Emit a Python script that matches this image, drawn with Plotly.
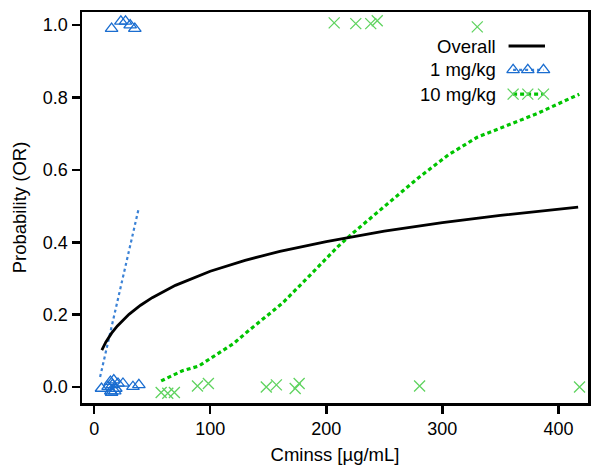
import plotly.graph_objects as go

# ---------------- data ----------------
# 1 mg/kg observations
low_x = [6.3, 12.0, 14.0, 15.7, 16.9, 18.6, 20.5, 24.8, 33.4, 38.5, 14.3, 17.7, 15.0,
         15.0, 23.0, 27.0, 31.0, 35.0]
low_y = [-0.004, 0.001, 0.015, 0.006, 0.019, -0.004, 0.010, 0.010, 0.001, 0.006, -0.011, -0.011, -0.015,
         0.99, 1.01, 1.01, 1.00, 0.99]
# 1 mg/kg fitted curve
low_fit_x = [5.1, 38.4]
low_fit_y = [0.028, 0.494]

# 10 mg/kg observations
high_x = [57.7, 63.4, 69.1, 89.0, 98.4, 148.3, 157.0, 173.2, 176.6, 280.4, 418.2,
          206.8, 225.4, 238.3, 243.9, 330.1]
high_y = [-0.015, -0.017, -0.015, 0.003, 0.010, 0.000, 0.006, -0.004, 0.010, 0.003, 0.000,
          1.006, 1.004, 1.004, 1.012, 0.995]
# 10 mg/kg fitted curve
high_fit_x = [57.7, 76, 90, 105, 120, 133.5, 150, 162, 182, 210, 222, 248, 279, 305, 330, 353, 382, 418]
high_fit_y = [0.017, 0.045, 0.058, 0.088, 0.12, 0.157, 0.2, 0.231, 0.296, 0.388, 0.423, 0.494,
              0.577, 0.641, 0.69, 0.719, 0.756, 0.809]

# Overall fitted curve
all_x = [6.6, 10, 15, 20, 30, 40, 50, 70, 100, 130, 160, 200, 250, 300, 350, 417]
all_y = [0.102, 0.124, 0.149, 0.169, 0.201, 0.226, 0.247, 0.281, 0.320, 0.350, 0.375, 0.402,
         0.431, 0.454, 0.474, 0.497]

x_ticks = [0, 100, 200, 300, 400]
y_ticks = [0.0, 0.2, 0.4, 0.6, 0.8, 1.0]
y_tick_text = ["0.0", "0.2", "0.4", "0.6", "0.8", "1.0"]
legend_names = ["Overall", "1 mg/kg", "10 mg/kg"]

# ---------------- styles ----------------
BLUE = "#1a6dd0"
BLUE_LINE = "#3b82d6"
GREEN_M = "#5fd35f"
GREEN_L = "#00c400"
FONT = "Liberation Sans, Arial, sans-serif"

fig = go.Figure()

fig.add_trace(go.Scatter(x=low_x, y=low_y, mode="markers",
                         marker=dict(symbol="triangle-up-open", size=11, color=BLUE,
                                     line=dict(width=1.3, color=BLUE)),
                         showlegend=False))
fig.add_trace(go.Scatter(x=high_x, y=high_y, mode="markers",
                         marker=dict(symbol="x-thin-open", size=11, color=GREEN_M,
                                     line=dict(width=1.3, color=GREEN_M)),
                         showlegend=False))
fig.add_trace(go.Scatter(x=low_fit_x, y=low_fit_y, mode="lines",
                         line=dict(color=BLUE_LINE, width=2.2, dash="dot"), showlegend=False))
fig.add_trace(go.Scatter(x=high_fit_x, y=high_fit_y, mode="lines",
                         line=dict(color=GREEN_L, width=3.2, dash="4px,3px"), showlegend=False))
fig.add_trace(go.Scatter(x=all_x, y=all_y, mode="lines",
                         line=dict(color="black", width=2.8), showlegend=False))

# ---------------- hand-made legend (text left, key right) ----------------
key_x0, key_x1 = 0.843, 0.915
key_xm = [0.852, 0.881, 0.912]
rows_y = [0.913, 0.852, 0.790]
text_x = 0.822

fig.add_trace(go.Scatter(x=[key_x0, key_x1], y=[rows_y[0]] * 2, mode="lines",
                         line=dict(color="black", width=2.8),
                         xaxis="x2", yaxis="y2", showlegend=False, hoverinfo="skip"))
fig.add_trace(go.Scatter(x=key_xm, y=[rows_y[1]] * 3, mode="lines+markers",
                         line=dict(color=BLUE_LINE, width=2.2, dash="dot"),
                         marker=dict(symbol="triangle-up-open", size=11, color=BLUE,
                                     line=dict(width=1.3, color=BLUE)),
                         xaxis="x2", yaxis="y2", showlegend=False, hoverinfo="skip"))
fig.add_trace(go.Scatter(x=key_xm, y=[rows_y[2]] * 3, mode="lines+markers",
                         line=dict(color=GREEN_L, width=3.2, dash="4px,3px"),
                         marker=dict(symbol="x-thin-open", size=11, color=GREEN_M,
                                     line=dict(width=1.3, color=GREEN_M)),
                         xaxis="x2", yaxis="y2", showlegend=False, hoverinfo="skip"))

for name, yy in zip(legend_names, rows_y):
    fig.add_annotation(x=text_x, y=yy, xref="paper", yref="paper", text=name,
                       showarrow=False, xanchor="right", yanchor="middle",
                       font=dict(size=18.5, color="black", family=FONT))

axis_common = dict(showline=True, linecolor="black", linewidth=2.5, mirror=True,
                   ticks="outside", ticklen=8, tickwidth=2.5, tickcolor="black",
                   showgrid=False, zeroline=False,
                   tickfont=dict(size=18, color="black", family=FONT))

fig.update_layout(
    width=595, height=468,
    margin=dict(l=82, r=4, t=12, b=65),
    paper_bgcolor="white", plot_bgcolor="white",
    font=dict(family=FONT, color="black"),
    showlegend=False,
    xaxis=dict(range=[-10.5, 425.5], tickvals=x_ticks, ticktext=[str(v) for v in x_ticks],
               title=dict(text="Cminss [µg/mL]", font=dict(size=18.5, family=FONT), standoff=10),
               **axis_common),
    yaxis=dict(range=[-0.044, 1.036], tickvals=y_ticks, ticktext=y_tick_text,
               title=dict(text="Probability (OR)", font=dict(size=18.5, family=FONT), standoff=12),
               **axis_common),
    xaxis2=dict(overlaying="x", range=[0, 1], visible=False, fixedrange=True),
    yaxis2=dict(overlaying="y", range=[0, 1], visible=False, fixedrange=True),
)

fig.write_html("out.html",
               config={"displayModeBar": False, "staticPlot": True},
               post_script="document.body.style.margin='0';document.body.style.overflow='hidden';")
